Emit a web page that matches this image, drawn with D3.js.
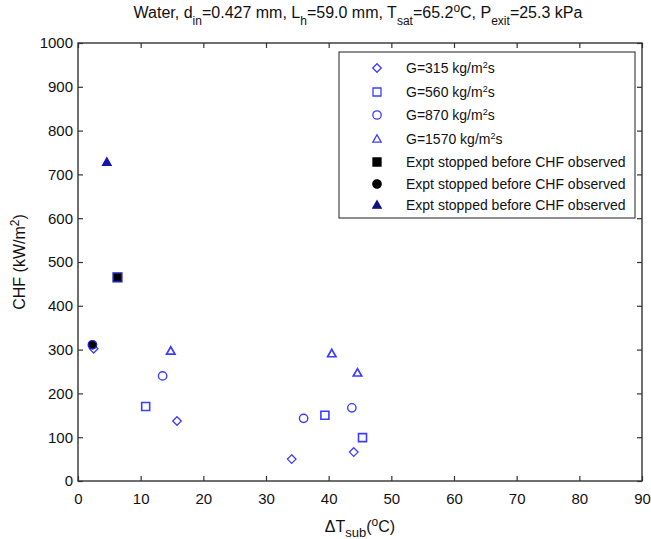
<!DOCTYPE html>
<html><head><meta charset="utf-8">
<script src="https://cdn.jsdelivr.net/npm/d3@7"></script>
<style>body{margin:0;background:#fff;} text{font-family:"Liberation Sans",Arial,sans-serif;}</style>
</head><body><svg id="c" width="651" height="539"></svg>
<script>
const xTicks = [0,10,20,30,40,50,60,70,80,90];
const yTicks = [0,100,200,300,400,500,600,700,800,900,1000];
const g315 = [[2.5,302],[15.8,137],[34.1,50],[44.0,66]];
const g560 = [[10.8,170],[39.4,150],[45.4,99]];
const g870 = [[13.5,240],[36.0,143],[43.7,167]];
const g1570 = [[14.8,297],[40.5,291],[44.6,247]];
const stopSquare = [[6.3,465]];
const stopCircle = [[2.3,311]];
const stopTriangle = [[4.6,728]];
const legendLabels = ["G=315 kg/m²s","G=560 kg/m²s","G=870 kg/m²s","G=1570 kg/m²s",
  "Expt stopped before CHF observed","Expt stopped before CHF observed","Expt stopped before CHF observed"];

const svg = d3.select("#c");
const L=78,R=642,T=43,B=481;
const x = d3.scaleLinear().domain([0,90]).range([L,R]);
const y = d3.scaleLinear().domain([0,1000]).range([B,T]);
const blue="#3c3cff", axisCol="#333";

// frame
svg.append("rect").attr("x",L).attr("y",T).attr("width",R-L).attr("height",B-T)
  .attr("fill","none").attr("stroke",axisCol).attr("stroke-width",1.4);

const fs="15px";
const xa = svg.append("g").attr("transform",`translate(0,${B})`)
  .call(d3.axisBottom(x).tickValues(xTicks).tickSize(-5).tickPadding(12).tickFormat(d3.format("d")));
const xt = svg.append("g").attr("transform",`translate(0,${T})`)
  .call(d3.axisTop(x).tickValues(xTicks).tickSize(-5).tickFormat(""));
const ya = svg.append("g").attr("transform",`translate(${L},0)`)
  .call(d3.axisLeft(y).tickValues(yTicks).tickSize(-5).tickPadding(5).tickFormat(d3.format("d")));
const yr = svg.append("g").attr("transform",`translate(${R},0)`)
  .call(d3.axisRight(y).tickValues(yTicks).tickSize(-5).tickFormat(""));
[xa,xt,ya,yr].forEach(a=>{
  a.select(".domain").remove();
  a.selectAll("line").attr("stroke",axisCol).attr("stroke-width",1.2);
  a.selectAll("text").attr("fill","#111").style("font-size",fs).style("font-family","'Liberation Sans',Arial,sans-serif");
});

// markers
function sym(type,size){return d3.symbol().type(type).size(size)();}
const diamondPath = "M0,-4.3L4.3,0L0,4.3L-4.3,0Z";
function draw(data, path, fill, stroke, sw){
  svg.append("g").selectAll("path").data(data).join("path")
    .attr("transform",d=>`translate(${x(d[0])},${y(d[1])})`)
    .attr("d",path).attr("fill",fill).attr("stroke",stroke).attr("stroke-width",sw);
}
const sqPath="M-4,-4H4V4H-4Z";
const bigSqPath="M-4.3,-4.3H4.3V4.3H-4.3Z";
const ciPath=sym(d3.symbolCircle,55);
const trPath="M0,-4.2L4.2,3.2L-4.2,3.2Z";
draw(g315, diamondPath, "none", blue, 1.3);
draw(g560, sqPath, "none", blue, 1.6);
draw(g870, ciPath, "none", blue, 1.4);
draw(g1570, trPath, "none", blue, 1.7);
draw(stopSquare, bigSqPath, "#000", "#2020c0", 1.6);
draw(stopCircle, ciPath, "#000", "#2020c0", 1.4);
draw(stopTriangle, trPath, "#1414b0", "#1414b0", 1.4);

// legend
const lg = svg.append("g");
lg.append("rect").attr("x",339).attr("y",52).attr("width",296).attr("height",166)
  .attr("fill","#fff").attr("stroke",axisCol).attr("stroke-width",1.1);
const legRows=[
  {p:diamondPath,f:"none",s:blue},{p:sqPath,f:"none",s:blue},{p:ciPath,f:"none",s:blue},
  {p:trPath,f:"none",s:blue},{p:sqPath,f:"#000",s:"#000"},{p:ciPath,f:"#000",s:"#000"},{p:trPath,f:"#101080",s:"#101080"}];
const rowY=[68,92,115,139,162,184,205];
legRows.forEach((r,i)=>{
  lg.append("path").attr("transform",`translate(377,${rowY[i]})`).attr("d",r.p)
    .attr("fill",r.f).attr("stroke",r.s).attr("stroke-width",1.3);
  const tx = lg.append("text").attr("x",406).attr("y",rowY[i]+5).style("font-size","14px").attr("fill","#111");
  const parts = legendLabels[i].split("²");
  tx.append("tspan").text(parts[0]);
  if(parts.length>1){
    tx.append("tspan").attr("dy",-5).style("font-size","9px").text("2");
    tx.append("tspan").attr("dy",5).text(parts[1]);
  }
});

// title
const t = svg.append("text").attr("x",358).attr("y",18).attr("text-anchor","middle")
  .style("font-size","16px").attr("fill","#111");
const sub=(s)=>{t.append("tspan").attr("dy",7).style("font-size","12px").text(s);};
const main=(s,dy)=>{t.append("tspan").attr("dy",dy).text(s);};
main("Water, d",0); sub("in"); main("=0.427 mm, L",-7); sub("h"); main("=59.0 mm, T",-7);
sub("sat"); main("=65.2",-7);
t.append("tspan").attr("dy",-6).style("font-size","12px").text("o");
main("C, P",6); sub("exit"); main("=25.3 kPa",-7);

// x label
const xl = svg.append("text").attr("x",360).attr("y",532).attr("text-anchor","middle")
  .style("font-size","16px").attr("fill","#111");
xl.append("tspan").text("ΔT");
xl.append("tspan").attr("dy",5).style("font-size","13px").text("sub");
xl.append("tspan").attr("dy",-5).text("(");
xl.append("tspan").attr("dy",-6).style("font-size","12px").text("o");
xl.append("tspan").attr("dy",6).text("C)");

// y label
const yl = svg.append("text").attr("transform",`translate(25,${(T+B)/2}) rotate(-90)`)
  .attr("text-anchor","middle").style("font-size","16px").attr("fill","#111");
yl.append("tspan").text("CHF  (kW/m");
yl.append("tspan").attr("dy",-6).style("font-size","12px").text("2");
yl.append("tspan").attr("dy",6).text(")");
</script></body></html>
